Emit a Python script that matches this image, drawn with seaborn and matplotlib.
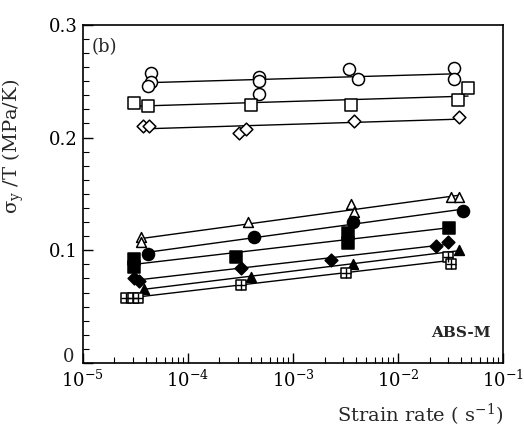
import numpy as np
import pandas as pd
import matplotlib
matplotlib.use("Agg")
import matplotlib.pyplot as plt
from matplotlib.ticker import MultipleLocator, LogLocator, LogFormatterMathtext, NullFormatter
import seaborn as sns

# ---- data (strain rate, sigma_y/T) ----
oc_x = [4.45e-5, 4.45e-5, 4.16e-5, 4.75e-4, 4.75e-4, 4.75e-4, 3.41e-3, 4.16e-3, 3.41e-2, 3.41e-2]
oc_y = [0.257, 0.249, 0.246, 0.254, 0.250, 0.239, 0.261, 0.252, 0.262, 0.252]

os_x = [3.06e-5, 4.16e-5, 3.98e-4, 3.56e-3, 3.73e-2, 4.65e-2]
os_y = [0.231, 0.228, 0.229, 0.229, 0.233, 0.244]

od_x = [3.73e-5, 4.25e-5, 3.06e-4, 3.57e-4, 3.81e-3, 3.81e-2]
od_y = [0.2106, 0.2106, 0.204, 0.208, 0.215, 0.218]

ot_x = [3.56e-5, 3.56e-5, 3.73e-4, 3.56e-3, 3.81e-3, 3.2e-2, 3.81e-2]
ot_y = [0.1115, 0.107, 0.125, 0.141, 0.134, 0.147, 0.147]

fc_x = [4.16e-5, 4.25e-4, 3.73e-3, 4.16e-2]
fc_y = [0.097, 0.112, 0.125, 0.135]

fs_x = [3.06e-5, 3.06e-5, 2.86e-4, 3.34e-3, 3.34e-3, 3.06e-2]
fs_y = [0.092, 0.085, 0.094, 0.115, 0.106, 0.120]

fd_x = [3.06e-5, 3.4e-5, 3.2e-4, 2.3e-3, 2.3e-2, 3.0e-2]
fd_y = [0.075, 0.073, 0.084, 0.091, 0.104, 0.107]

ft_x = [3.81e-5, 3.98e-4, 3.73e-3, 3.81e-2]
ft_y = [0.066, 0.076, 0.088, 0.100]

cs_x = [2.57e-5, 3.0e-5, 3.34e-5, 3.2e-4, 3.2e-3, 3.0e-2, 3.2e-2]
cs_y = [0.058, 0.058, 0.058, 0.069, 0.080, 0.094, 0.088]

series = [
    ("oc", oc_x, oc_y, "o", "white", 75),
    ("os", os_x, os_y, "s", "white", 65),
    ("od", od_x, od_y, "D", "white", 42),
    ("ot", ot_x, ot_y, "^", "white", 50),
    ("fc", fc_x, fc_y, "o", "black", 75),
    ("fs", fs_x, fs_y, "s", "black", 65),
    ("fd", fd_x, fd_y, "D", "black", 42),
    ("ft", ft_x, ft_y, "^", "black", 50),
    ("cs", cs_x, cs_y, "s", "white", 50),
]

sns.set_style("white")
plt.rcParams["font.family"] = ["DejaVu Serif"]
plt.rcParams["mathtext.fontset"] = "dejavuserif"

fig = plt.figure(figsize=(5.24, 4.29), dpi=100)
ax = fig.add_axes([0.158, 0.154, 0.802, 0.788])

for name, xs, ys, mk, fc, s in series:
    df = pd.DataFrame({"rate": xs, "sig": ys})
    sns.regplot(data=df, x="rate", y="sig", logx=True, scatter=False, ci=None,
                truncate=True, color="black", line_kws={"lw": 1.0, "zorder": 1}, ax=ax)
    sns.scatterplot(data=df, x="rate", y="sig", marker=mk, s=s, facecolor=fc,
                    edgecolor="black", linewidth=1.1, zorder=3, ax=ax, legend=False)
    if name == "cs":
        sns.scatterplot(data=df, x="rate", y="sig", marker="+", s=50, color="black",
                        linewidth=1.0, zorder=4, ax=ax, legend=False)

ax.set_xscale("log")
ax.set_xlim(1e-5, 1e-1)
ax.set_ylim(0, 0.3)
ax.yaxis.set_major_locator(MultipleLocator(0.1))
ax.yaxis.set_minor_locator(MultipleLocator(0.0125))
ax.yaxis.set_major_formatter(plt.FuncFormatter(lambda v, p: "" if abs(v) < 1e-9 else f"{v:.1f}"))
ax.xaxis.set_major_locator(LogLocator(base=10, numticks=10))
ax.xaxis.set_minor_locator(LogLocator(base=10, subs=np.arange(2, 10), numticks=20))
ax.xaxis.set_major_formatter(LogFormatterMathtext())
ax.xaxis.set_minor_formatter(NullFormatter())

ax.tick_params(which="both", direction="in", top=False, right=False, bottom=True, left=True,
               colors="black", labelsize=13)
ax.tick_params(which="major", length=7, width=1)
ax.tick_params(which="minor", length=4, width=0.8)
ax.tick_params(axis="x", pad=5)
for sp in ax.spines.values():
    sp.set_color("black")
    sp.set_linewidth(1.2)

# y-axis "0" label, placed slightly above the corner so it clears the 10^-5 label
ax.text(-0.02, 0.018, "0", transform=ax.transAxes, fontsize=13, ha="right", va="center")

ax.set_xlabel("Strain rate ( s$^{-1}$)", fontsize=14, loc="right", labelpad=8)
ax.set_ylabel("σ$_{\\mathrm{y}}$ /T (MPa/K)", fontsize=14)
ax.yaxis.set_label_coords(-0.135, 0.64)

ax.text(0.02, 0.96, "(b)", transform=ax.transAxes, fontsize=13, va="top", ha="left")
ax.text(0.90, 0.09, "ABS-M", transform=ax.transAxes, fontsize=11, va="center", ha="center",
        fontweight="semibold")

fig.savefig("out.png", dpi=100)
